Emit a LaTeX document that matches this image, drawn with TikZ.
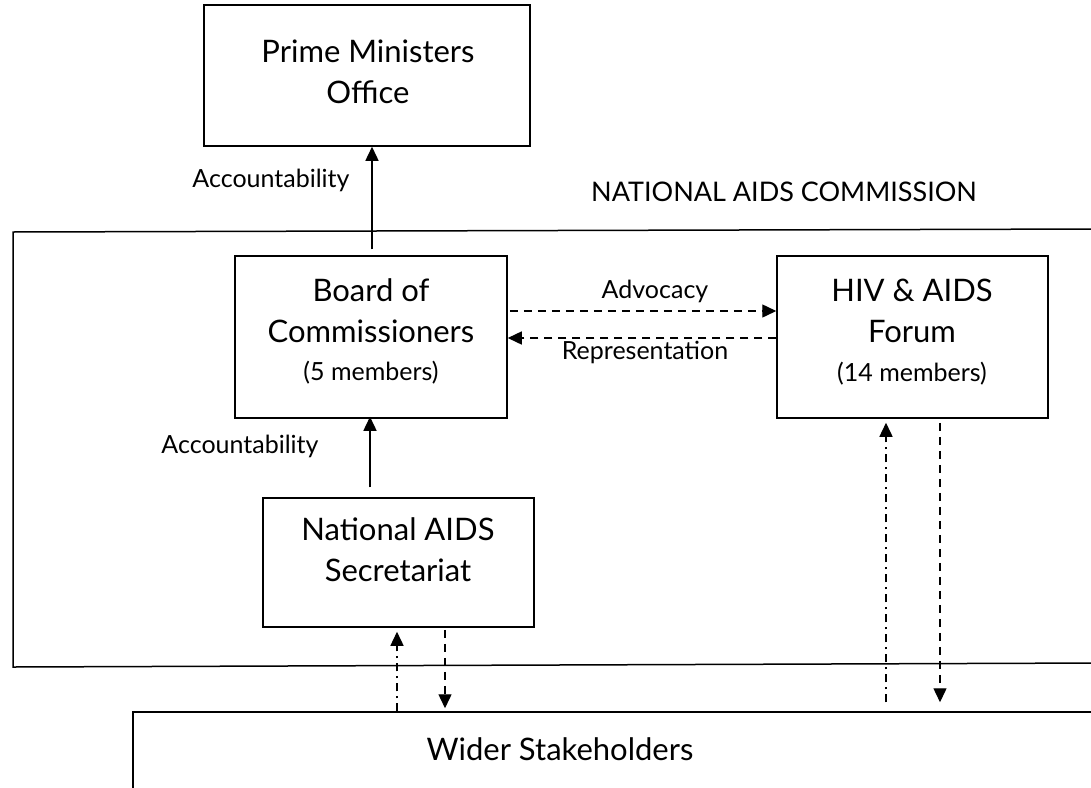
\documentclass[tikz,border=0pt]{standalone}
\usepackage{fontspec}
\setmainfont{Lato}
\usetikzlibrary{arrows.meta,calc}
\begin{document}
\begin{tikzpicture}[x=1pt,y=-1pt,
  box/.style={draw,line width=1.5pt,rectangle,inner sep=0pt},
  title/.style={font=\fontsize{31}{41}\selectfont,align=center,inner sep=0pt},
  small/.style={font=\fontsize{25}{28}\selectfont,inner sep=0pt},
  arr/.style={line width=1.4pt,-{Triangle[length=14pt,width=13pt]}},
  dsh/.style={arr,dash pattern=on 8pt off 6pt},
  dshdot/.style={arr,dash pattern=on 8pt off 5pt on 2pt off 5pt}]
\useasboundingbox (0,0) rectangle (1091,787);
\clip (0,0) rectangle (1091,787);
\fill[white] (0,0) rectangle (1091,787);
% outer NAC box
\coordinate (nactr) at (1100,229);
\coordinate (nactl) at (13,232);
\coordinate (nacbl) at (13,667);
\coordinate (nacbr) at (1100,663);
\draw[line width=1.5pt] (nactr) -- (nactl) -- (nacbl) -- (nacbr);
\node[font=\fontsize{27}{30}\selectfont,inner sep=0pt] (naclabel) at (784,192) {NATIONAL AIDS COMMISSION};
% boxes
\node[box,minimum width=326pt,minimum height=141pt] (pmo) at (367,75.5) {};
\node[title] (pmot) at (368,72) {Prime Ministers\\Office};
\node[box,minimum width=272pt,minimum height=162pt] (board) at (371,337) {};
\node[title] (boardt) at (371,311) {Board of\\Commissioners};
\node[small] (boardm) at (371,373) {(5 members)};
\node[box,minimum width=271pt,minimum height=162pt] (forum) at (912.5,337) {};
\node[title] (forumt) at (912,311) {HIV \& AIDS\\Forum};
\node[small] (forumm) at (912,374) {(14 members)};
\node[box,minimum width=271pt,minimum height=129pt] (sec) at (398.5,562.5) {};
\node[title] (sect) at (398,550) {National AIDS\\Secretariat};
\node[box,minimum width=967pt,minimum height=90pt] (wider) at (616.5,757) {};
\node[title] (widert) at (560,749) {Wider Stakeholders};
% labels
\node[small] (acc1) at (271,180) {Accountability};
\node[small] (acc2) at (240,446) {Accountability};
\node[small] (adv) at (655,291) {Advocacy};
\node[small] (rep) at (645,352) {Representation};
% x positions of the vertical connectors
\coordinate (xa) at (372,0);
\coordinate (xb) at (370,0);
\coordinate (xc) at (397,0);
\coordinate (xd) at (445,0);
\coordinate (xe) at (886,0);
\coordinate (xf) at (940,0);
% connectors
\draw[arr,shorten <=6pt] (xa |- board.north) -- (xa |- pmo.south);
\draw[arr,shorten <=10pt,shorten >=-2pt] (xb |- sec.north) -- (xb |- board.south);
\draw[dsh,shorten <=2pt] ([yshift=26pt]board.east) -- ([yshift=26pt]forum.west);
\draw[dsh] ([yshift=-1pt]forum.west) -- ([yshift=-1pt]board.east);
\draw[dshdot,shorten >=4pt] (xc |- wider.north) -- (xc |- sec.south);
\draw[dsh,shorten <=2pt,shorten >=3pt] (xd |- sec.south) -- (xd |- wider.north);
\draw[dshdot,shorten <=9pt,shorten >=4pt] (xe |- wider.north) -- (xe |- forum.south);
\draw[dsh,shorten <=4pt,shorten >=9pt] (xf |- forum.south) -- (xf |- wider.north);
\end{tikzpicture}
\end{document}
